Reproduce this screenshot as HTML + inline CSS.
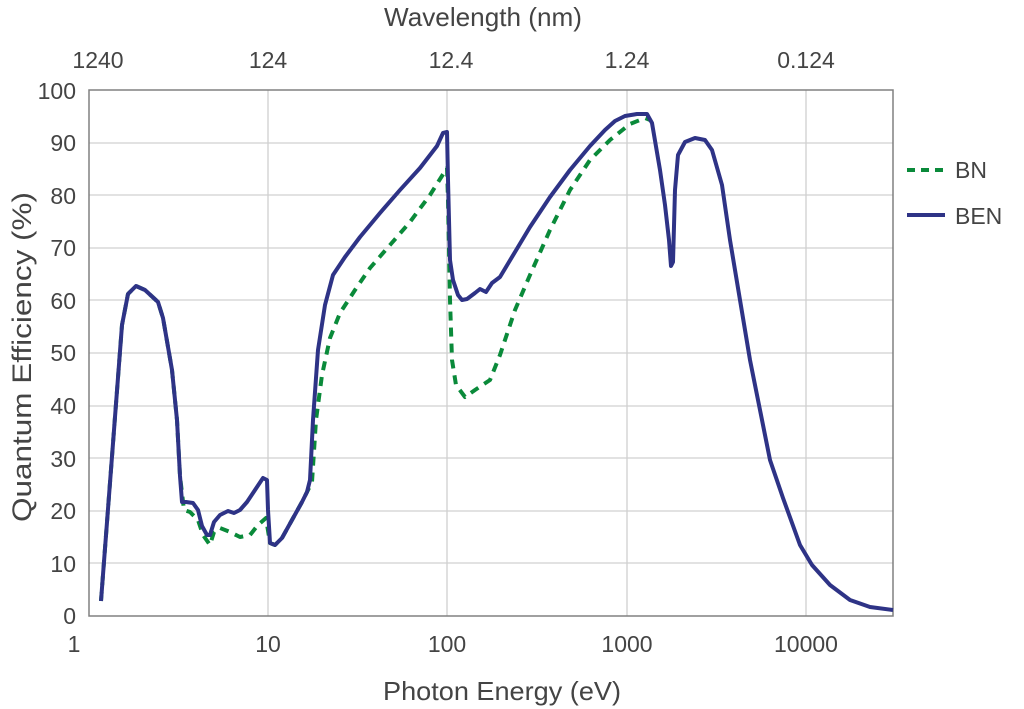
<!DOCTYPE html>
<html><head><meta charset="utf-8"><style>
body{margin:0;background:#fff;}
svg{display:block;font-family:"Liberation Sans",Arial,sans-serif;}
</style></head><body>
<svg width="1024" height="709" viewBox="0 0 1024 709">
<rect width="1024" height="709" fill="#fff"/>
<g stroke="#d0d0d0" stroke-width="1.3">
<line x1="89" y1="143" x2="893" y2="143"/><line x1="89" y1="195" x2="893" y2="195"/>
<line x1="89" y1="248" x2="893" y2="248"/><line x1="89" y1="300" x2="893" y2="300"/>
<line x1="89" y1="353" x2="893" y2="353"/><line x1="89" y1="406" x2="893" y2="406"/>
<line x1="89" y1="458" x2="893" y2="458"/><line x1="89" y1="511" x2="893" y2="511"/>
<line x1="89" y1="563" x2="893" y2="563"/>
<line x1="268" y1="90" x2="268" y2="616"/><line x1="447" y1="90" x2="447" y2="616"/>
<line x1="627" y1="90" x2="627" y2="616"/><line x1="806" y1="90" x2="806" y2="616"/>
</g>
<rect x="89" y="90" width="804" height="526" fill="none" stroke="#808080" stroke-width="1.5"/>
<g fill="#444" font-size="23" text-anchor="end">
<text x="76" y="99">100</text><text x="76" y="151">90</text><text x="76" y="204">80</text>
<text x="76" y="256">70</text><text x="76" y="309">60</text><text x="76" y="361">50</text>
<text x="76" y="414">40</text><text x="76" y="467">30</text><text x="76" y="519">20</text>
<text x="76" y="572">10</text><text x="76" y="624">0</text>
</g>
<g fill="#444" font-size="23" text-anchor="middle">
<text x="74" y="652">1</text><text x="268" y="652">10</text><text x="447" y="652">100</text>
<text x="627" y="652">1000</text><text x="806" y="652">10000</text>
<text x="98" y="68">1240</text><text x="268" y="68">124</text><text x="451" y="68">12.4</text>
<text x="627" y="68">1.24</text><text x="806" y="68">0.124</text>
<text x="483" y="26" font-size="26" textLength="198" lengthAdjust="spacingAndGlyphs">Wavelength (nm)</text>
<text x="502" y="700" font-size="26" textLength="238" lengthAdjust="spacingAndGlyphs">Photon Energy (eV)</text>
<text transform="translate(31,357) rotate(-90)" font-size="27" textLength="330" lengthAdjust="spacingAndGlyphs">Quantum Efficiency (%)</text>
</g>
<polyline fill="none" stroke="#0a8a3a" stroke-width="4" stroke-dasharray="9,7" stroke-linejoin="round" points="101,601 122,325 128,294 136,286 145,290 158,302 163,318 172,370 177,420 180,476 184,510 190,512 198,520 203,535 210,545 214,532 220,528 230,532 240,537 250,535 258,525 266,518 270,543 275,545 282,538 292,520 302,502 307,492 312,482 316,420 322,375 330,338 340,313 355,290 370,268 390,245 410,222 430,195 447,168 448,200 450,300 452,360 456,385 465,397 475,390 490,380 500,355 515,310 530,275 550,230 570,190 590,160 610,140 630,124 645,118 650,120"/>
<polyline fill="none" stroke="#2e3386" stroke-width="4" stroke-linejoin="round" points="101,601 122,325 128,294 136,286 145,290 158,302 163,318 172,370 177,420 180,476 182,502 186,502 193,503 198,510 202,526 207,535 210,535 214,522 220,515 228,511 234,513 240,510 247,502 255,490 263,478 267,480 268,510 270,543 275,545 282,538 292,520 302,502 307,492 310,480 313,420 318,350 325,305 333,275 345,257 360,237 380,213 400,190 420,168 437,146 443,133 447,132 448,180 450,260 453,280 458,295 462,300 467,299 475,293 480,289 486,292 492,283 500,277 515,252 530,227 550,197 570,170 590,146 605,130 615,121 625,116 637,114 647,114 652,123 660,170 665,205 669,240 671,266 673,262 675,190 678,155 685,142 695,138 705,140 712,150 722,185 730,240 740,300 750,360 760,410 770,460 783,498 800,545 812,565 830,585 850,600 870,607 893,610"/>
<line x1="907" y1="170" x2="945" y2="170" stroke="#0a8a3a" stroke-width="4" stroke-dasharray="8,6"/>
<line x1="907" y1="215" x2="945" y2="215" stroke="#2e3386" stroke-width="4"/>
<g fill="#444" font-size="23"><text x="955" y="178">BN</text><text x="955" y="224">BEN</text></g>
</svg>
</body></html>
